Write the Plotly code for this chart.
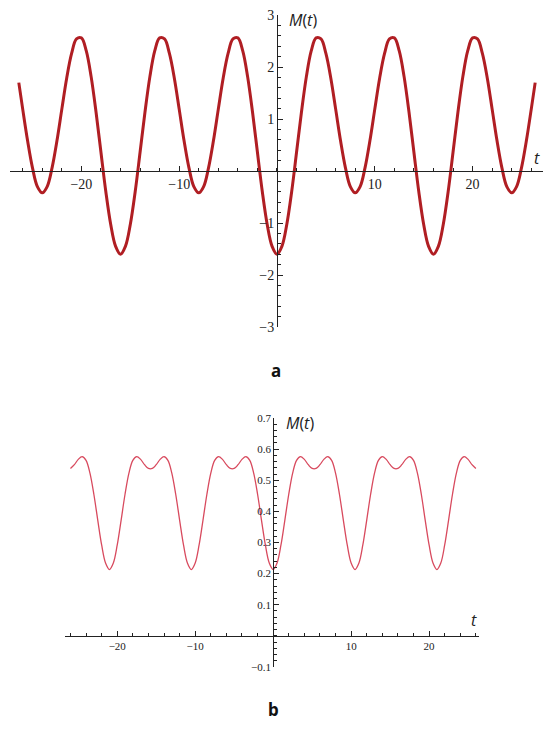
import numpy as np
import plotly.graph_objects as go

# panel a: M(t) read every 0.5 in t, plus the two curve ends
t_a = [-26.4] + list(np.arange(-52, 53) / 2) + [26.4]
m_a = [1.70,
       1.19, 0.58, 0.06, -0.30, -0.42, -0.30, 0.06, 0.58, 1.19, 1.79,
       2.26, 2.54, 2.56, 2.31, 1.81, 1.13, 0.36, -0.40, -1.03, -1.45,
       -1.60, -1.45, -1.03, -0.40, 0.36, 1.13, 1.81, 2.31, 2.56, 2.54,
       2.26, 1.79, 1.19, 0.58, 0.06, -0.30, -0.42, -0.30, 0.06, 0.58,
       1.19, 1.79, 2.26, 2.54, 2.56, 2.31, 1.81, 1.13, 0.36, -0.40,
       -1.03, -1.45,
       -1.60, -1.45, -1.03, -0.40, 0.36, 1.13, 1.81, 2.31, 2.56, 2.54,
       2.26, 1.79, 1.19, 0.58, 0.06, -0.30, -0.42, -0.30, 0.06, 0.58,
       1.19, 1.79, 2.26, 2.54, 2.56, 2.31, 1.81, 1.13, 0.36, -0.40,
       -1.03, -1.45,
       -1.60, -1.45, -1.03, -0.40, 0.36, 1.13, 1.81, 2.31, 2.56, 2.54,
       2.26, 1.79, 1.19, 0.58, 0.06, -0.30, -0.42, -0.30, 0.06, 0.58,
       1.19,
       1.70]

# panel b: M(t) read every 0.5 in t
t_b = list(np.arange(-52, 53) / 2)
m_b = [0.538, 0.550, 0.567, 0.576, 0.564, 0.523, 0.455, 0.372, 0.292, 0.234,
       0.213, 0.234, 0.292, 0.372, 0.455, 0.523, 0.564, 0.576, 0.567, 0.550, 0.538,
       0.538, 0.550, 0.567, 0.576, 0.564, 0.523, 0.455, 0.372, 0.292, 0.234,
       0.213, 0.234, 0.292, 0.372, 0.455, 0.523, 0.564, 0.576, 0.567, 0.550, 0.538,
       0.538, 0.550, 0.567, 0.576, 0.564, 0.523, 0.455, 0.372, 0.292, 0.234,
       0.213, 0.234, 0.292, 0.372, 0.455, 0.523, 0.564, 0.576, 0.567, 0.550, 0.538,
       0.538, 0.550, 0.567, 0.576, 0.564, 0.523, 0.455, 0.372, 0.292, 0.234,
       0.213, 0.234, 0.292, 0.372, 0.455, 0.523, 0.564, 0.576, 0.567, 0.550, 0.538,
       0.538, 0.550, 0.567, 0.576, 0.564, 0.523, 0.455, 0.372, 0.292, 0.234,
       0.213, 0.234, 0.292, 0.372, 0.455, 0.523, 0.564, 0.576, 0.567, 0.550, 0.538]

# tick labels
xt_vals = [-20, -10, 10, 20]
xt_text = ['\u221220', '\u221210', '10', '20']
ya_vals = [-3, -2, -1, 1, 2, 3]
ya_text = ['\u22123', '\u22122', '\u22121', '1', '2', '3']
yb_vals = [-0.1, 0.1, 0.2, 0.3, 0.4, 0.5, 0.6, 0.7]
yb_text = ['\u22120.1', '0.1', '0.2', '0.3', '0.4', '0.5', '0.6', '0.7']

AX = '#222222'
W, H = 550, 729


def dom_x(p0, p1):
    return [p0 / W, p1 / W]


def dom_y(top, bottom):
    return [1 - bottom / H, 1 - top / H]


def px(x, y):
    return x / W, 1 - y / H


def axes(xdom, ydom, xr, yr, xv, xtx, yv, ytx, ymin, fs):
    # axes cross at the origin, Mathematica style
    xpos = ydom[0] + (0 - yr[0]) / (yr[1] - yr[0]) * (ydom[1] - ydom[0])
    ypos = xdom[0] + (0 - xr[0]) / (xr[1] - xr[0]) * (xdom[1] - xdom[0])
    font = dict(family='Liberation Serif', size=fs, color='#222222')
    common = dict(anchor='free', showline=True, linecolor=AX, linewidth=1,
                  ticks='inside', ticklen=5, tickwidth=1, tickcolor=AX,
                  tickfont=font, showgrid=False, zeroline=False,
                  automargin=False, fixedrange=True)
    xa = dict(domain=xdom, range=xr, position=xpos, tickvals=xv, ticktext=xtx,
              minor=dict(ticks='inside', ticklen=3, tickwidth=1, tickcolor=AX,
                         tick0=0, dtick=2, showgrid=False),
              **common)
    ya = dict(domain=ydom, range=yr, position=ypos, tickvals=yv, ticktext=ytx,
              minor=dict(ticks='inside', ticklen=3, tickwidth=1, tickcolor=AX,
                         tick0=0, dtick=ymin, showgrid=False),
              **common)
    return xa, ya


xa1, ya1 = axes(dom_x(10, 543), dom_y(15, 327), [-27.3, 27.2], [-3, 3],
                xt_vals, xt_text, ya_vals, ya_text, 0.2, 14)
xa2, ya2 = axes(dom_x(65, 479), dom_y(418, 667), [-26.7, 26.4], [-0.1, 0.7],
                xt_vals, xt_text, yb_vals, yb_text, 0.02, 11)

fig = go.Figure()
fig.add_trace(go.Scatter(x=t_a, y=m_a, mode='lines', xaxis='x', yaxis='y',
                         line=dict(color='#B01E23', width=3, shape='spline'),
                         showlegend=False, hoverinfo='skip'))
fig.add_trace(go.Scatter(x=t_b, y=m_b, mode='lines', xaxis='x2', yaxis='y2',
                         line=dict(color='#D84A5E', width=1.3, shape='spline'),
                         showlegend=False, hoverinfo='skip'))

lab = dict(family='Open Sans', size=16, color='#222222')


def note(x, y, text, font, xanchor='center'):
    ax, ay = px(x, y)
    return dict(x=ax, y=ay, xref='paper', yref='paper', text=text,
                showarrow=False, xanchor=xanchor, yanchor='middle', font=font)


bold = dict(family='Noto Sans', size=17, color='#111111')
fig.update_layout(
    template='none',
    width=W, height=H,
    margin=dict(l=0, r=0, t=0, b=0, autoexpand=False),
    paper_bgcolor='white', plot_bgcolor='white',
    xaxis=xa1, yaxis=ya1, xaxis2=xa2, yaxis2=ya2,
    annotations=[
        note(287, 20, '<i>M</i>(<i>t</i>)', lab, 'left'),
        note(537, 158, '<i>t</i>', lab),
        note(284, 423, '<i>M</i>(<i>t</i>)', lab, 'left'),
        note(474, 620, '<i>t</i>', lab),
        note(276, 370, '<b>a</b>', bold),
        note(273, 709, '<b>b</b>', bold),
    ],
)

# drop the page's default 8px body margin so the figure sits at the corner
fig.write_html('out.html',
               config={'displayModeBar': False},
               post_script="document.body.style.margin='0';"
                           "document.body.style.overflow='hidden';")
